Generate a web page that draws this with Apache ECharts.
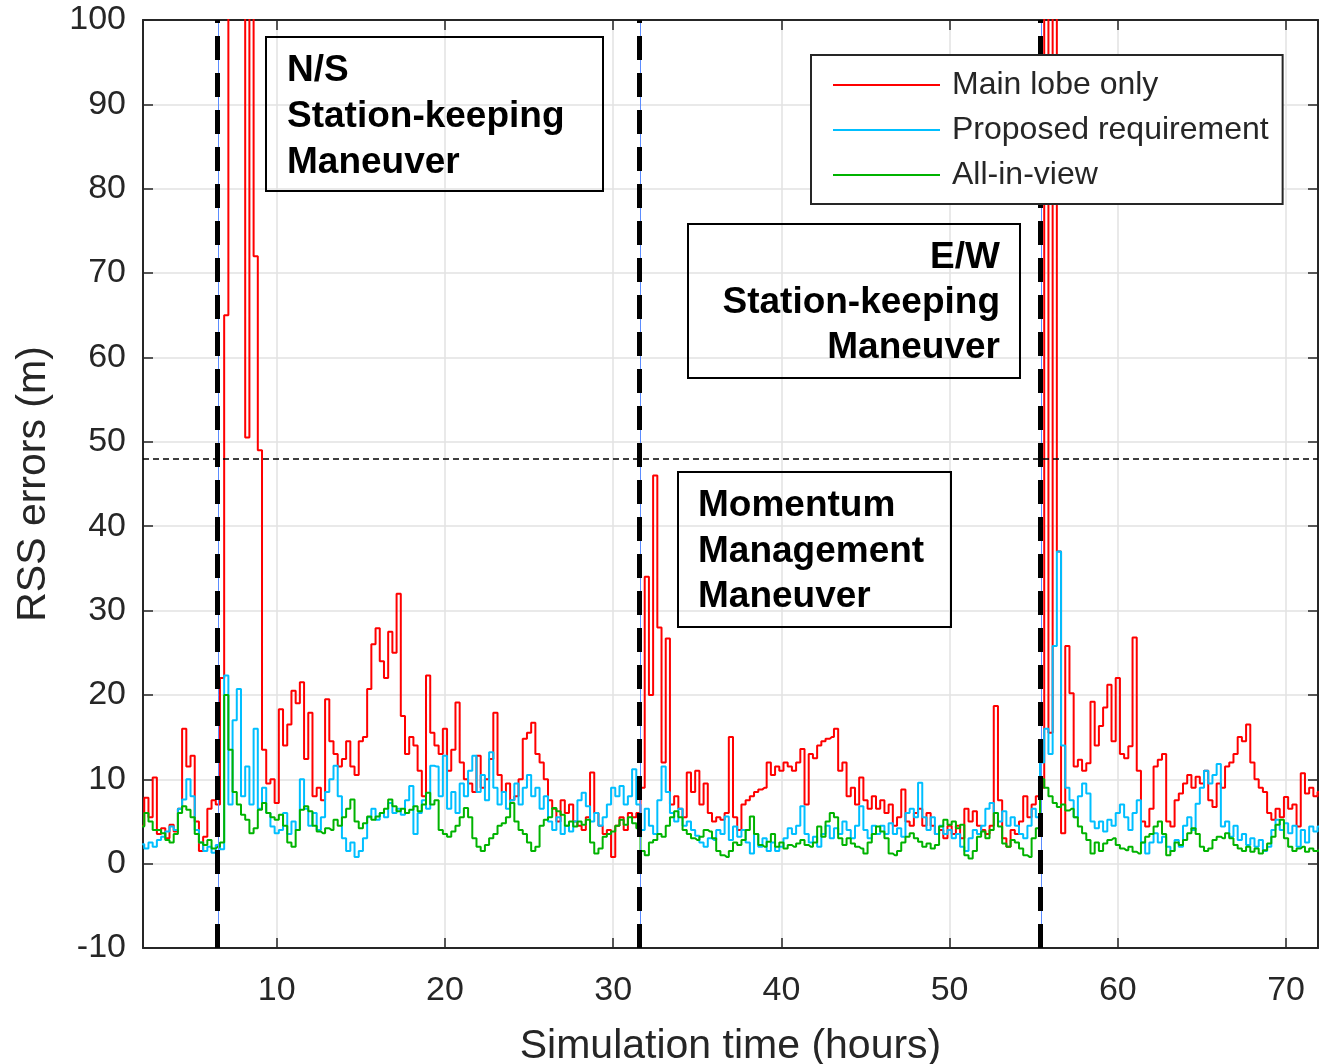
<!DOCTYPE html>
<html>
<head>
<meta charset="utf-8">
<script src="https://cdn.jsdelivr.net/npm/echarts@6/dist/echarts.min.js"></script>
<style>
html,body{margin:0;padding:0;background:#fff;}
#chart{width:1322px;height:1064px;}
</style>
</head>
<body>
<div id="chart"></div>
<script>
// Sample times (hours): 2.0 to 72.0 every 0.25 h
const T_START = 2.0, T_STEP = 0.25, T_COUNT = 281;
const times = [];
for (let i = 0; i < T_COUNT; i++) times.push(+(T_START + i * T_STEP).toFixed(2));

const seriesNames = ['Main lobe only', 'Proposed requirement', 'All-in-view'];
const seriesColors = ['#ff0000', '#00bfff', '#00b300'];

// RSS errors (m), one value per time sample (values above 100 are clipped off the plot)
const mainLobe = [
  4.5, 7.8, 5.5, 10.2,   3.5, 4.2, 3.0, 4.6,   3.8, 6.5, 16.0, 11.5,   12.8, 5.0, 1.5, 3.2,
  6.5, 7.5, 7.0, 22.0,   65, 160, 180, 150,   170, 50.5, 150, 72,   49, 13.5, 9.5, 10.0,
  7.2, 18.3, 14.0, 16.5,   20.5, 19.0, 21.5, 12.4,   17.9, 8.0, 9.0, 7.5,   19.5, 14.5, 13.0, 11.5,
  12.4, 14.5, 11.5, 10.5,   14.5, 15.0, 20.7, 26.0,   27.9, 24.0, 22.0, 27.5,   25.0, 32.0, 17.5, 13.0,
  15.0, 14.0, 11.0, 8.0,   22.3, 15.5, 14.0, 13.0,   16.0, 11.0, 13.5, 19.1,   12.0, 10.0, 9.5, 8.5,
  12.8, 9.0, 10.0, 12.4,   17.9, 10.5, 8.5, 9.5,   7.5, 8.0, 10.0, 14.8,   15.5, 16.7, 13.0, 12.0,
  10.0, 7.5, 6.5, 5.0,   7.5, 6.0, 7.0, 5.0,   4.5, 4.0, 5.5, 10.8,   6.0, 4.5, 3.5, 4.0,
  0.8, 4.5, 5.5, 4.0,   6.0, 5.5, 6.0, 9.0,   34, 20, 46, 28,   12, 26.7, 7, 8,
  6.5, 5.5, 10.8, 8.5,   11, 7, 9.5, 6,   5, 5.5, 5.2, 6,   15, 5.5, 4, 7,
  7.5, 8.0, 8.5, 8.8,   9, 12, 10.5, 11.5,   11, 12, 11.5, 11,   12, 13.6, 7.0, 13.0,
  12.5, 14, 14.5, 14.8,   15, 16, 11, 12,   8, 9, 7, 10.2,   7.5, 6.5, 8, 6.5,
  7.5, 6.0, 7, 4.5,   5.5, 8.8, 5, 4.5,   6, 6.5, 4.5, 6,   4.5, 3.5, 4.0, 3,
  4.5, 3.5, 4.5, 3.0,   6.5, 5.0, 6.2, 4.5,   4.0, 3.5, 4.5, 18.7,   7.5, 3.0, 2.0, 4,
  3.5, 5, 8, 5.5,   7, 8, 9, 150,   15.5, 160, 37, 3.6,   25.8, 20.2, 11.5, 12.3,
  11, 11.9, 19.2, 14,   16.3, 18.5, 21.2, 14.5,   22, 13, 12.5, 13.9,   26.8, 11, 5, 4.4,
  6.5, 11.5, 12.3, 13,   5, 4.4, 7.5, 8.3,   9.5, 10.5, 9, 10.3,   9.5, 11, 7.5, 6.7,
  9.5, 9, 11.5, 12,   13, 15, 14.5, 16.5,   12, 10, 9, 8.5,   6, 5.2, 6.5, 5.5,
  7.9, 6.5, 7, 4.4,   10.7, 8.3, 9, 8.0,   8.5
];
const proposed = [
  2.3, 1.8, 2.5, 2.0,   2.8, 3.2, 3.8, 4.4,   4.0, 6.5, 7.6, 10.0,   8.0, 4.0, 2.5, 1.5,
  2.0, 1.3, 2.2, 1.7,   22.3, 7.0, 17.0, 20.7,   8.0, 11.5, 7.0, 16.0,   6.5, 9.0, 6.0, 4.4,
  3.6, 4.0, 6.0, 3.5,   5.0, 4.0, 10.0, 6.5,   4.5, 6.0, 4.0, 5.5,   8.5, 10.0, 11.6, 8.0,
  3.0, 1.5, 2.5, 0.8,   1.5, 3.0, 5.5, 6.5,   5.2, 6.0, 5.5, 7.2,   6.0, 6.5, 5.8, 7.5,
  9.2, 3.5, 6.0, 7.5,   6.5, 11.6, 11.5, 8.0,   12.8, 6.5, 8.5, 6.0,   9.5, 8.0, 11.0, 12.8,
  8.5, 10.5, 7.5, 13.2,   9.0, 7.0, 8.5, 6.5,   7.5, 9.5, 7.0, 9.0,   10.5, 8.0, 9.0, 6.5,
  8.0, 5.0, 4.0, 5.5,   3.5, 4.5, 3.8, 5.0,   7.5, 8.4, 6.8, 5.0,   6.0, 4.5, 5.5, 7.0,
  9.0, 8.0, 9.2, 7.0,   8.0, 11.2, 7.0, 4.0,   6.5, 4.5, 3.5, 7.5,   11.5, 8.5, 6.0, 5.0,
  6.5, 4.5, 5.0, 4.0,   3.3, 2.5, 2.0, 3.0,   2.8, 4.0, 3.5, 5.6,   2.8, 4.4, 3.2, 4.0,
  2.5, 1.2, 3.5, 2.0,   3.0, 1.5, 2.5, 1.5,   2.0, 3.0, 4.2, 3.5,   4.5, 6.8, 3.5, 2.5,
  3.2, 2.0, 3.5, 4.5,   3.0, 4.2, 3.5, 5.0,   4.0, 3.0, 4.5, 6.8,   4.0, 3.0, 4.5, 3.5,
  4.5, 3.5, 4.8, 3.5,   4.2, 3.2, 6.0, 6.5,   5.5, 9.6, 5.5, 4.0,   5.5, 3.5, 4.5, 3.5,
  4.0, 3.0, 3.5, 2.0,   1.5, 3.0, 4.0, 3.5,   4.5, 6.5, 7.2, 6.0,   5.0, 6.2, 4.5, 5.5,
  4.5, 3.5, 3.0, 4.5,   6.5, 5.5, 12.0, 16.0,   13.0, 25.8, 37.0, 14.0,   9.0, 7.5, 5.5, 8.0,
  9.5, 8.3, 5.0, 4.2,   5.0, 3.8, 5.2, 4.5,   6.0, 7.0, 5.5, 4.0,   6.0, 7.5, 2.5, 1.2,
  2.5, 3.6, 2.5, 3.2,   2.0, 1.5, 2.8, 2.0,   4.5, 5.5, 4.0, 7.1,   9.0, 11.0, 9.5, 10.5,
  11.8, 4.4, 5.0, 3.2,   4.5, 2.8, 3.5, 2.2,   3.0, 2.0, 2.8, 1.5,   2.0, 4.0, 5.2, 4.0,
  4.8, 3.6, 4.5, 2.0,   4.0, 2.5, 4.4, 3.8,   4.4
];
const allInView = [
  4.4, 6.0, 5.0, 4.0,   4.0, 3.6, 2.8, 2.5,   3.5, 6.0, 6.8, 6.4,   5.5, 3.5, 2.5, 2.2,
  2.8, 1.8, 2.0, 2.5,   20.0, 13.5, 8.5, 7.0,   5.8, 5.2, 3.6, 4.2,   6.4, 7.2, 6.0, 5.5,
  5.2, 5.8, 4.5, 2.5,   2.0, 4.0, 6.4, 6.8,   6.2, 4.5, 3.8, 3.6,   4.2, 4.0, 5.2, 4.5,
  5.5, 6.5, 7.6, 5.0,   4.2, 4.8, 5.6, 5.2,   5.6, 6.0, 6.5, 7.6,   6.8, 6.2, 6.5, 6.0,
  6.4, 6.8, 6.2, 7.0,   8.4, 7.0, 7.5, 4.0,   3.5, 3.2, 3.8, 4.5,   5.5, 6.6, 5.5, 3.0,
  2.0, 1.5, 2.2, 3.0,   3.5, 4.5, 4.8, 5.5,   7.2, 5.0, 4.0, 3.5,   2.5, 1.5, 2.0, 4.5,
  5.2, 5.5, 6.6, 6.2,   5.8, 4.5, 5.0, 4.4,   5.0, 4.6, 5.2, 2.5,   1.2, 1.8, 3.2, 3.5,
  3.8, 4.5, 5.2, 4.6,   5.5, 4.8, 4.2, 1.5,   1.0, 2.5, 2.8, 3.5,   3.2, 4.5, 5.5, 6.2,
  5.5, 4.0, 3.5, 3.0,   2.8, 3.2, 4.0, 3.8,   3.0, 1.5, 1.0, 0.8,   1.5, 2.5, 2.2, 2.8,
  4.0, 5.6, 3.5, 2.2,   2.0, 2.6, 3.5, 2.0,   2.5, 1.8, 2.2, 2.0,   2.4, 2.8, 2.2, 2.0,
  2.5, 4.4, 3.2, 5.0,   6.0, 5.5, 3.0, 2.2,   3.0, 2.4, 2.0, 1.8,   1.2, 2.5, 3.5, 4.4,
  3.8, 3.0, 1.2, 1.0,   1.5, 2.5, 3.2, 3.6,   3.0, 2.6, 2.0, 2.4,   1.8, 2.2, 4.4, 5.2,
  4.6, 5.0, 4.2, 4.6,   1.0, 0.6, 1.5, 3.2,   3.8, 3.0, 4.0, 6.0,   4.4, 2.4, 2.0, 2.8,
  2.5, 1.8, 1.0, 0.8,   3.0, 4.2, 10.0, 9.0,   8.0, 7.2, 6.7, 7.0,   6.3, 6.5, 5.5, 4.4,
  3.6, 2.8, 1.2, 2.5,   1.5, 2.4, 2.8, 3.0,   2.2, 1.8, 1.6, 2.0,   1.4, 1.2, 2.5, 3.2,
  3.5, 4.4, 5.0, 3.5,   1.0, 1.5, 2.5, 2.2,   2.8, 3.6, 4.2, 3.5,   2.0, 1.5, 1.8, 2.8,
  3.2, 3.0, 3.6, 3.0,   2.2, 1.8, 1.5, 2.0,   1.4, 1.8, 1.2, 1.6,   2.4, 3.2, 4.6, 5.2,
  3.0, 2.0, 1.5, 1.8,   2.0, 1.4, 1.8, 1.5,   1.6
];

// Reference markers
const maneuverTimes = [6.48, 31.57, 55.39];   // vertical dashed lines (hours)
const thresholdValue = 48;                      // horizontal dashed line (m)

// Axis ranges / ticks
const xRange = [2.05, 71.9];
const yTicks = [-10, 0, 10, 20, 30, 40, 50, 60, 70, 80, 90, 100];

// Annotation texts
const nsLines = ['N/S', 'Station-keeping', 'Maneuver'];
const ewLines = ['E/W', 'Station-keeping', 'Maneuver'];
const mmLines = ['Momentum', 'Management', 'Maneuver'];

const valueSets = [mainLobe, proposed, allInView];
const FONT = '"Liberation Sans", Arial, Helvetica, sans-serif';
const AX = '#262626';

const chart = echarts.init(document.getElementById('chart'), null, {renderer: 'canvas'});

const dataSeries = valueSets.map((vals, k) => ({
  name: seriesNames[k],
  type: 'line',
  xAxisIndex: 0, yAxisIndex: 0,
  data: times.map((t, i) => [t, vals[i]]),
  showSymbol: false,
  symbol: 'none',
  step: 'middle',
  clip: true,
  z: 2 + k * 0.1,
  lineStyle: {color: seriesColors[k], width: 2},
  itemStyle: {color: seriesColors[k]},
  emphasis: {disabled: true},
  animation: false
}));

const markSeries = {
  name: 'ref',
  type: 'line',
  data: [],
  silent: true,
  z: 3,
  markLine: {
    silent: true,
    symbol: ['none', 'none'],
    label: {show: false},
    animation: false,
    data: [
      ...maneuverTimes.map(t => ({xAxis: t + 0.06, lineStyle: {color: '#5b8cff', width: 1, type: 'solid'}})),
      ...maneuverTimes.map(t => ({xAxis: t, lineStyle: {color: '#000', width: 5, type: [24, 13]}})),
      {yAxis: thresholdValue, lineStyle: {color: '#000', width: 1.5, type: [6, 4]}}
    ]
  }
};

function textLines(lines, x, y0, gap, align) {
  return lines.map((s, i) => ({
    type: 'text', z: 100,
    style: {
      text: s, x: x, y: y0 + i * gap,
      font: 'bold 37px ' + FONT, fill: '#000',
      textAlign: align, textVerticalAlign: 'middle'
    }
  }));
}
function box(x, y, w, h) {
  return {type: 'rect', z: 100, shape: {x, y, width: w, height: h},
    style: {fill: 'none', stroke: '#000', lineWidth: 2}};
}

const option = {
  animation: false,
  backgroundColor: '#fff',
  grid: {left: 143, right: 4, top: 20, bottom: 116, containLabel: false, outerBoundsMode: 'none'},
  legend: {
    data: seriesNames,
    orient: 'vertical',
    left: 811, top: 55,
    z: 20,
    backgroundColor: '#fff',
    borderColor: AX, borderWidth: 2,
    padding: [14, 14, 13, 22],
    itemWidth: 107, itemHeight: 2, itemGap: 13,
    icon: 'rect',
    selectedMode: false,
    textStyle: {fontSize: 32, fontFamily: FONT, color: AX, lineHeight: 32, padding: [0, 0, 0, 7]}
  },
  xAxis: [{
    type: 'value', position: 'bottom',
    min: xRange[0], max: xRange[1],
    minInterval: 10, maxInterval: 10,
    name: 'Simulation time (hours)', nameLocation: 'middle', nameGap: 78,
    nameTextStyle: {fontSize: 41, fontFamily: FONT, color: AX},
    axisLine: {show: true, onZero: false, lineStyle: {color: AX, width: 2}},
    axisTick: {show: true, inside: true, length: 10, lineStyle: {color: AX, width: 1.5}},
    axisLabel: {show: true, showMinLabel: false, showMaxLabel: false, fontSize: 34, fontFamily: FONT, color: AX, margin: 26},
    splitLine: {show: true, lineStyle: {color: '#e2e2e2', width: 1.5}}
  }, {
    type: 'value', position: 'top',
    min: xRange[0], max: xRange[1],
    minInterval: 10, maxInterval: 10,
    axisLine: {show: true, onZero: false, lineStyle: {color: AX, width: 2}},
    axisTick: {show: true, inside: true, length: 10, lineStyle: {color: AX, width: 1.5}},
    axisLabel: {show: false},
    splitLine: {show: false}
  }],
  yAxis: [{
    type: 'value', position: 'left',
    min: yTicks[0], max: yTicks[yTicks.length - 1], interval: 10,
    name: 'RSS errors (m)', nameLocation: 'middle', nameGap: 89, nameRotate: 90,
    nameTextStyle: {fontSize: 41, fontFamily: FONT, color: AX},
    axisLine: {show: true, onZero: false, lineStyle: {color: AX, width: 2}},
    axisTick: {show: true, inside: true, length: 10, lineStyle: {color: AX, width: 1.5}},
    axisLabel: {fontSize: 34, fontFamily: FONT, color: AX, margin: 17},
    splitLine: {show: true, lineStyle: {color: '#e2e2e2', width: 1.5}}
  }, {
    type: 'value', position: 'right',
    min: yTicks[0], max: yTicks[yTicks.length - 1], interval: 10,
    axisLine: {show: true, onZero: false, lineStyle: {color: AX, width: 2}},
    axisTick: {show: true, inside: true, length: 10, lineStyle: {color: AX, width: 1.5}},
    axisLabel: {show: false},
    splitLine: {show: false}
  }],
  series: [...dataSeries, markSeries],
  graphic: [
    box(266, 37, 337, 154),
    ...textLines(nsLines, 287, 71, 46, 'left'),
    box(688, 224, 332, 154),
    ...textLines(ewLines, 1000, 258, 45, 'right'),
    box(678, 472, 273, 155),
    ...textLines(mmLines, 698, 506, 45.5, 'left')
  ]
};

chart.setOption(option);
</script>
</body>
</html>
